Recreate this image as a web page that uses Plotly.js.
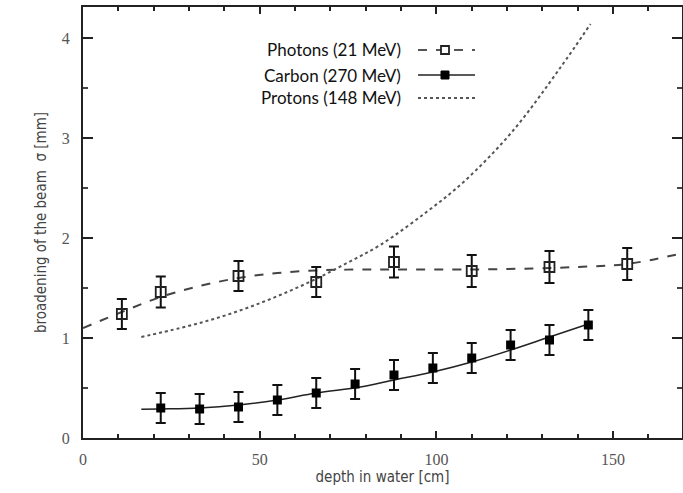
<!DOCTYPE html>
<html>
<head>
<meta charset="utf-8">
<script src="https://cdn.plot.ly/plotly-3.0.1.min.js"></script>
<style>html,body{margin:0;padding:0;background:#fff;}#chart{width:683px;height:493px;}</style>
</head>
<body>
<div id="chart"></div>
<script>
// ---- data ----
var photonX   = [11, 22, 44, 66, 88, 110, 132, 154];
var photonY   = [1.24, 1.46, 1.62, 1.56, 1.76, 1.67, 1.71, 1.74];
var photonErr = [0.15, 0.155, 0.15, 0.15, 0.155, 0.16, 0.16, 0.16];

var carbonX   = [22, 33, 44, 55, 66, 77, 88, 99, 110, 121, 132, 143];
var carbonY   = [0.30, 0.29, 0.31, 0.38, 0.45, 0.54, 0.63, 0.70, 0.80, 0.93, 0.98, 1.13];
var carbonErr = [0.15, 0.15, 0.15, 0.15, 0.15, 0.15, 0.15, 0.15, 0.15, 0.15, 0.15, 0.15];

var photonFitX = [0, 11, 22, 33, 44, 55, 66, 77, 88, 110, 132, 143, 154, 170];
var photonFitY = [1.10, 1.26, 1.41, 1.52, 1.60, 1.65, 1.675, 1.685, 1.685, 1.685, 1.70, 1.715, 1.74, 1.85];

var carbonFitX = [16.5, 22, 33, 44, 55, 66, 78.5, 88, 99, 110, 121, 132, 143];
var carbonFitY = [0.287, 0.29, 0.30, 0.33, 0.38, 0.45, 0.51, 0.58, 0.66, 0.76, 0.88, 1.01, 1.14];

var protonX = [16.5, 27.5, 37, 46.4, 55.8, 65.3, 74.7, 84.1, 97.2, 108, 121.6, 135, 143.6];
var protonY = [1.01, 1.10, 1.19, 1.30, 1.43, 1.58, 1.75, 1.93, 2.26, 2.57, 3.07, 3.70, 4.14];

var legendNames = ["Photons (21 MeV)", "Carbon (270 MeV)", "Protons (148 MeV)"];

var xTitle = "depth in water [cm]";
var yTitle = "broadening of the beam  \u03c3 [mm]";

// ---- traces ----
var traces = [
  {x: photonFitX, y: photonFitY, mode: 'lines', line: {shape: 'spline', smoothing: 1, color: '#444', width: 2, dash: 'dash'}, hoverinfo: 'skip'},
  {x: carbonFitX, y: carbonFitY, mode: 'lines', line: {shape: 'spline', smoothing: 1, color: '#222', width: 1.5}, hoverinfo: 'skip'},
  {x: protonX, y: protonY, mode: 'lines', line: {shape: 'spline', smoothing: 1, color: '#555', width: 2, dash: 'dot'}, hoverinfo: 'skip'},
  {x: photonX, y: photonY, mode: 'markers', name: legendNames[0],
   marker: {symbol: 'square-open', size: 10, color: '#222', line: {width: 1.8, color: '#222'}},
   error_y: {type: 'data', array: photonErr, visible: true, color: '#111', thickness: 2, width: 5}},
  {x: carbonX, y: carbonY, mode: 'markers', name: legendNames[1],
   marker: {symbol: 'square', size: 9, color: '#000'},
   error_y: {type: 'data', array: carbonErr, visible: true, color: '#111', thickness: 2, width: 5}}
];

// ---- legend (text on the left, samples on the right, as in the reference) ----
function px2x(px) { return (px - 83) / 599; }
function py2y(py) { return (438 - py) / 431; }
var legY = [50, 75, 98];
var annotations = legendNames.map(function (n, i) {
  return {text: n, xref: 'paper', yref: 'paper', x: px2x(403), y: py2y(legY[i]),
          xanchor: 'right', yanchor: 'middle', showarrow: false,
          font: {family: 'Lato, "Open Sans", sans-serif', size: 17, color: '#111'}};
});
var shapes = [
  {type: 'line', xref: 'paper', yref: 'paper', x0: px2x(418), x1: px2x(475), y0: py2y(legY[0]), y1: py2y(legY[0]), line: {color: '#555', width: 2, dash: 'dash'}},
  {type: 'rect', xref: 'paper', yref: 'paper', x0: px2x(441), x1: px2x(449), y0: py2y(legY[0] - 4), y1: py2y(legY[0] + 4), line: {color: '#222', width: 1.8}, fillcolor: '#fff'},
  {type: 'line', xref: 'paper', yref: 'paper', x0: px2x(418), x1: px2x(475), y0: py2y(legY[1]), y1: py2y(legY[1]), line: {color: '#222', width: 1.5}},
  {type: 'rect', xref: 'paper', yref: 'paper', x0: px2x(441), x1: px2x(449), y0: py2y(legY[1] - 4), y1: py2y(legY[1] + 4), line: {color: '#000', width: 1}, fillcolor: '#000'},
  {type: 'line', xref: 'paper', yref: 'paper', x0: px2x(418), x1: px2x(475), y0: py2y(legY[2]), y1: py2y(legY[2]), line: {color: '#555', width: 2, dash: 'dot'}}
];

var SERIF = '"Liberation Serif", "Times New Roman", "DejaVu Serif", serif';
var COND = '"DejaVu Sans Condensed", "DejaVu Sans", sans-serif';
function serifFont() { return {family: SERIF, size: 16, color: '#555'}; }
function titleFont() { return {family: COND, stretch: 'condensed', size: 15, color: '#444'}; }

var layout = {
  width: 683, height: 493,
  font: {family: SERIF, size: 16, color: '#555'},
  margin: {l: 83, r: 1, t: 7, b: 55, pad: 0},
  paper_bgcolor: '#fff', plot_bgcolor: '#fff',
  showlegend: false,
  xaxis: {
    range: [0, 169.5], tick0: 0, dtick: 50, ticks: 'inside', ticklen: 7, tickwidth: 2, tickcolor: '#222',
    minor: {dtick: 10, ticks: 'inside', ticklen: 4, tickwidth: 2, tickcolor: '#222'},
    showline: true, linecolor: '#222', linewidth: 2, mirror: 'allticks',
    showgrid: false, zeroline: false, tickfont: serifFont(), ticklabelstandoff: 6,
    title: {text: xTitle, standoff: 4, font: titleFont()}
  },
  yaxis: {
    range: [0, 4.31], tick0: 0, dtick: 1, ticks: 'inside', ticklen: 10, tickwidth: 2, tickcolor: '#222',
    minor: {dtick: 0.5, ticks: 'inside', ticklen: 5, tickwidth: 1.5, tickcolor: '#444'},
    showline: true, linecolor: '#222', linewidth: 2, mirror: 'allticks',
    showgrid: false, zeroline: false, tickfont: serifFont(), ticklabelstandoff: 8,
    title: {text: yTitle, standoff: 12, font: titleFont()}
  },
  annotations: annotations,
  shapes: shapes
};

Plotly.newPlot('chart', traces, layout, {displayModeBar: false, staticPlot: true});
</script>
</body>
</html>
